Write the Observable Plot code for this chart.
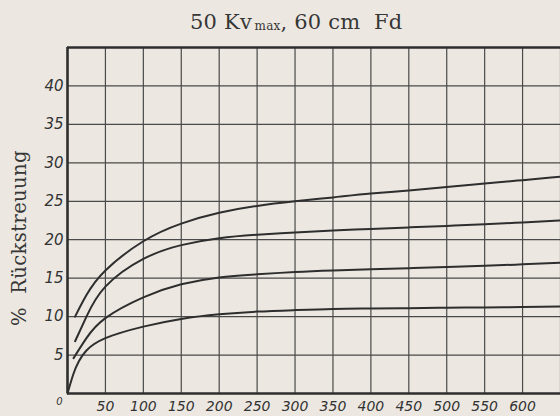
<!DOCTYPE html>
<html>
<head>
<meta charset="utf-8">
<script src="https://cdn.jsdelivr.net/npm/d3@7"></script>
<script src="https://cdn.jsdelivr.net/npm/@observablehq/plot@0.6"></script>
<style>
  body { margin: 0; background: #ece8e1; width: 560px; height: 416px; overflow: hidden; position: relative; }
  #title { position: absolute; left: 190px; top: 10px; white-space: nowrap; font-family: "DejaVu Serif", "Liberation Serif", serif; font-size: 21px; color: #363636; letter-spacing: 0.2px; }
  #title sub { font-size: 12px; vertical-align: -1px; }
  #ylabel { position: absolute; left: 19px; top: 238px; transform: translate(-50%, -50%) rotate(-90deg); white-space: nowrap; font-family: "DejaVu Serif", "Liberation Serif", serif; font-size: 19.5px; letter-spacing: 0.4px; color: #363636; }
  #chart { position: absolute; left: 0; top: 40px; }
  svg { display: block; }
</style>
</head>
<body>
<div id="title">50 Kv<sub>&thinsp;max</sub>, 60 cm&nbsp; Fd</div>
<div id="ylabel">%&nbsp; Rückstreuung</div>
<div id="chart"></div>
<script>
// x values (abscissa) and % Rückstreuung (y) for the four curves
const x1 = [10, 25, 50, 100, 150, 200, 250, 300, 350, 400, 450, 500, 550, 600, 650];
const y1 = [10.0, 12.8, 16.0, 19.8, 22.1, 23.5, 24.4, 25.0, 25.5, 26.0, 26.4, 26.85, 27.3, 27.75, 28.2];

const x2 = [10, 25, 50, 100, 150, 200, 250, 300, 350, 400, 450, 500, 550, 600, 650];
const y2 = [6.8, 10.0, 13.9, 17.5, 19.3, 20.2, 20.65, 20.95, 21.2, 21.4, 21.6, 21.8, 22.0, 22.25, 22.5];

const x3 = [8, 25, 50, 100, 150, 200, 250, 300, 350, 400, 450, 500, 550, 600, 650];
const y3 = [4.6, 7.2, 9.8, 12.5, 14.2, 15.1, 15.5, 15.8, 16.0, 16.15, 16.3, 16.45, 16.6, 16.8, 17.0];

const x4 = [0, 8, 15, 25, 50, 100, 150, 200, 250, 300, 350, 400, 450, 500, 550, 600, 650];
const y4 = [0.0, 2.6, 4.2, 5.6, 7.2, 8.7, 9.7, 10.3, 10.65, 10.85, 11.0, 11.05, 11.1, 11.15, 11.2, 11.25, 11.3];

const xTicks = [50, 100, 150, 200, 250, 300, 350, 400, 450, 500, 550, 600];
const yTicks = [5, 10, 15, 20, 25, 30, 35, 40];
const xGrid = [50, 100, 150, 200, 250, 300, 350, 400, 450, 500, 550, 600, 650];
const yMax = 45;
const zeroLabel = ["0"];

const series = [[x1, y1], [x2, y2], [x3, y3], [x4, y4]];
const data = series.flatMap(([xs, ys], i) => xs.map((x, j) => ({ x, y: ys[j], s: i })));

const tickFont = "'DejaVu Sans', sans-serif";

const chart = Plot.plot({
  width: 560,
  height: 376,
  marginLeft: 67,
  marginRight: 0,
  marginTop: 7,
  marginBottom: 23,
  style: { background: "transparent", color: "#333", fontFamily: tickFont },
  x: { domain: [0, 650] },
  y: { domain: [0, yMax] },
  marks: [
    Plot.ruleX(xGrid, { stroke: "#4a4a4a", strokeWidth: 1.2 }),
    Plot.ruleY(yTicks, { stroke: "#4a4a4a", strokeWidth: 1.2 }),
    Plot.line(data, { x: "x", y: "y", z: "s", curve: "natural", stroke: "#2e2e2e", strokeWidth: 2 }),
    Plot.ruleX([0], { stroke: "#2e2e2e", strokeWidth: 2.6 }),
    Plot.ruleY([0, yMax], { stroke: "#2e2e2e", strokeWidth: 2.6 }),
    Plot.axisX(xTicks, { tickSize: 0, tickPadding: 8, fontSize: 14, fontStyle: "italic", label: null, fill: "#333" }),
    Plot.axisY(yTicks, { tickSize: 0, tickPadding: 4, fontSize: 15, fontStyle: "italic", label: null, fill: "#333" }),
    Plot.text(zeroLabel, { x: 0, y: 0, text: d => d, dx: -8, dy: 8, fontSize: 10, fontStyle: "italic", fill: "#333" })
  ]
});
document.getElementById("chart").appendChild(chart);
</script>
</body>
</html>
